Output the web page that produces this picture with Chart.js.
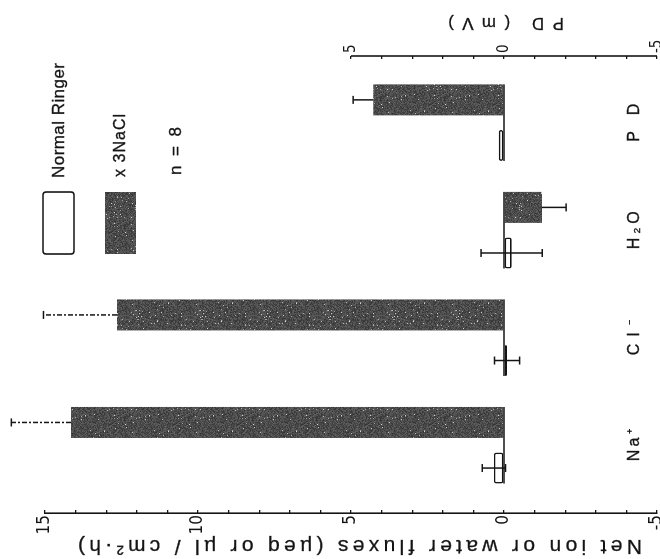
<!DOCTYPE html>
<html>
<head>
<meta charset="utf-8">
<script src="https://cdn.jsdelivr.net/npm/chart.js@4.4.1/dist/chart.umd.min.js"></script>
<style>
  html, body { margin: 0; padding: 0; background: #fff; overflow: hidden; }
  body { width: 660px; height: 559px; position: relative; }
  /* the figure is laid out upright and turned a quarter turn to the left */
  #wrap { position: absolute; left: 0; top: 559px; width: 559px; height: 660px;
          transform-origin: 0 0; transform: rotate(-90deg); }
</style>
</head>
<body>
<div id="wrap"><canvas id="fluxChart" width="559" height="660"></canvas></div>
<script>
const categories = ['Na⁺', 'Cl⁻', 'H₂O', 'PD'];
const seriesNames = ['Normal Ringer', 'x 3NaCl'];
const sampleNote = 'n = 8';
const fluxTitle = 'Net ion or water fluxes (µeq or µl / cm²·h)';
const pdTitle = 'PD (mV)';

// net fluxes in µeq or µl / cm²·h (Na⁺, Cl⁻, H₂O)
const ringerFlux    = [0.33, -0.1, -0.25, null];
const ringerFluxErr = [0.38, 0.41, 1.0, null];
const naclFlux      = [14.15, 12.65, -1.24, null];
const naclFluxErr   = [1.95, 2.4, 0.79, null];

// transepithelial PD in mV
const ringerPD    = [null, null, null, 0.17];
const ringerPDErr = [null, null, null, 0];
const naclPD      = [null, null, null, 4.27];
const naclPDErr   = [null, null, null, 0.66];

const fluxTicks = [-5, 0, 5, 10, 15];
const pdTicks = [-5, 0, 5];

const ink = '#141414';
const font = "'Liberation Sans', Arial, sans-serif";
const narrow = "'Liberation Sans Narrow', 'DejaVu Sans Condensed', 'Liberation Sans', sans-serif";
const labelWidths = [32, 35, 38, 38];
const dashedErr = [true, true, false, false];

// stippled fill for the hypertonic bars
function grainPattern(ctx) {
    const tile = document.createElement('canvas');
    tile.width = tile.height = 64;
    const t = tile.getContext('2d');
    const img = t.createImageData(64, 64);
    let seed = 20231;
    const next = () => (seed = (seed * 16807) % 2147483647) / 2147483647;
    for (let i = 0; i < 64 * 64; i++) {
        let g = 52 + next() * 46;
        if (next() < 0.025) g = 150 + next() * 70;
        img.data[i * 4] = img.data[i * 4 + 1] = img.data[i * 4 + 2] = g;
        img.data[i * 4 + 3] = 255;
    }
    t.putImageData(img, 0, 0);
    return ctx.createPattern(tile, 'repeat');
}

// letter-spaced text spread over a given width, lightly stroked for weight
function spacedText(ctx, str, x, y, width, align) {
    const chars = [...str];
    const widths = chars.map(c => ctx.measureText(c).width);
    const natural = widths.reduce((a, b) => a + b, 0);
    const gap = chars.length > 1 ? (width - natural) / (chars.length - 1) : 0;
    let cx = align === 'center' ? x - width / 2 : x;
    ctx.textAlign = 'left';
    ctx.lineWidth = 0.3;
    chars.forEach((c, k) => {
        ctx.fillText(c, cx, y);
        ctx.strokeText(c, cx, y);
        cx += widths[k] + gap;
    });
}

const ctx = document.getElementById('fluxChart').getContext('2d');
const grain = grainPattern(ctx);
const pts = arr => arr.map((v, i) => ({ x: i + 1, y: v }));

const ringerStyle = { backgroundColor: '#fff', borderColor: ink, borderWidth: 1.6, borderRadius: 2, borderSkipped: false };
const naclStyle = { backgroundColor: grain, borderWidth: 0 };

const decorations = {
    id: 'decorations',
    afterDatasetsDraw(chart) {
        const c = chart.ctx;
        const area = chart.chartArea;
        const { x: xs, y: ys, y2 } = chart.scales;
        c.save();
        c.strokeStyle = ink;
        c.fillStyle = ink;
        c.lineWidth = 1.6;

        // zero line joining the pair of bars in each group
        const y0 = ys.getPixelForValue(0);
        categories.forEach((cat, j) => {
            let lo = Infinity, hi = -Infinity;
            chart.data.datasets.forEach((ds, di) => {
                if (ds.data[j].y == null) return;
                const bar = chart.getDatasetMeta(di).data[j];
                lo = Math.min(lo, bar.x - bar.width / 2);
                hi = Math.max(hi, bar.x + bar.width / 2);
            });
            c.beginPath();
            c.moveTo(lo, y0);
            c.lineTo(hi, y0);
            c.stroke();
        });

        // error bars
        c.lineWidth = 1.5;
        chart.data.datasets.forEach((ds, di) => {
            const scale = chart.scales[ds.yAxisID];
            chart.getDatasetMeta(di).data.forEach((bar, j) => {
                const v = ds.data[j].y, e = ds.errs[j];
                if (v == null || !e) return;
                const dir = v >= 0 ? 1 : -1;
                const top = scale.getPixelForValue(v + dir * e);
                const bottom = scale.getPixelForValue(ds.twoSided ? v - dir * e : v);
                c.setLineDash(!ds.twoSided && dashedErr[j] ? [5, 2, 2, 2] : []);
                c.beginPath();
                c.moveTo(bar.x, bottom);
                c.lineTo(bar.x, top);
                c.stroke();
                c.setLineDash([]);
                const caps = ds.twoSided ? [top, bottom] : [top];
                caps.forEach(py => {
                    c.beginPath();
                    c.moveTo(bar.x - 4, py);
                    c.lineTo(bar.x + 4, py);
                    c.stroke();
                });
            });
        });

        // PD axis line only over its own range
        c.lineWidth = 1.6;
        c.beginPath();
        c.moveTo(y2.left, y2.getPixelForValue(pdTicks[0]));
        c.lineTo(y2.left, y2.getPixelForValue(pdTicks[pdTicks.length - 1]));
        c.stroke();

        // category labels inside the plot
        c.textBaseline = 'middle';
        c.font = '16px ' + font;
        categories.forEach((cat, j) => {
            spacedText(c, cat, xs.getPixelForValue(j + 1), area.bottom - 22, labelWidths[j], 'center');
        });

        // axis titles, reading upwards
        c.save();
        c.translate(13, 360);
        c.rotate(-Math.PI / 2);
        c.font = '21px ' + font;
        spacedText(c, fluxTitle, 0, 0, 564, 'center');
        c.restore();

        c.save();
        c.translate(536, y2.getPixelForValue(0) + 2);
        c.rotate(-Math.PI / 2);
        c.font = '17px ' + font;
        spacedText(c, pdTitle, 0, 0, 116, 'center');
        c.restore();

        // legend
        const boxX = 305, boxW = 62, boxH = 31;
        c.lineWidth = 1.6;
        c.beginPath();
        c.roundRect(boxX, 43, boxW, boxH, 3);
        c.fillStyle = '#fff';
        c.fill();
        c.stroke();
        c.fillStyle = grain;
        c.fillRect(boxX, 105, boxW, boxH);

        c.fillStyle = ink;
        c.font = '17px ' + font;
        spacedText(c, seriesNames[0], 381, 59, 115, 'left');
        c.font = '16px ' + font;
        spacedText(c, seriesNames[1], 382, 121, 63, 'left');
        c.font = '17px ' + font;
        spacedText(c, sampleNote, 384, 176, 48, 'left');
        c.restore();
    }
};

new Chart(ctx, {
    type: 'bar',
    data: {
        datasets: [
            { label: seriesNames[0], data: pts(ringerFlux), errs: ringerFluxErr, twoSided: true, yAxisID: 'y', ...ringerStyle },
            { label: seriesNames[1], data: pts(naclFlux), errs: naclFluxErr, yAxisID: 'y', ...naclStyle },
            { label: seriesNames[0], data: pts(ringerPD), errs: ringerPDErr, twoSided: true, yAxisID: 'y2', ...ringerStyle },
            { label: seriesNames[1], data: pts(naclPD), errs: naclPDErr, yAxisID: 'y2', ...naclStyle }
        ]
    },
    options: {
        responsive: false,
        animation: false,
        devicePixelRatio: 1,
        events: [],
        layout: { padding: { top: 45, bottom: 3, left: 0, right: 0 } },
        plugins: { legend: { display: false }, tooltip: { enabled: false } },
        datasets: { bar: { categoryPercentage: 0.848, barPercentage: 0.68, skipNull: true } },
        scales: {
            x: {
                type: 'linear',
                display: false,
                offset: false,
                min: 0.37,
                max: 4.62,
                afterBuildTicks: s => { s.ticks = categories.map((c, i) => ({ value: i + 1 })); }
            },
            y: {
                position: 'left',
                min: -5,
                max: 15,
                ticks: {
                    stepSize: 1,
                    autoSkip: false,
                    padding: 5,
                    color: ink,
                    font: { family: narrow, size: 17 },
                    callback: v => fluxTicks.includes(v) ? String(v) : ''
                },
                grid: { drawOnChartArea: false, drawTicks: true, tickLength: -3, color: ink, lineWidth: 1.3 },
                border: { display: true, color: ink, width: 1.6 },
                afterFit: s => { s.width = 46; s.paddingTop = 0; s.paddingBottom = 0; }
            },
            y2: {
                position: 'right',
                min: -5,
                max: 15,
                ticks: {
                    stepSize: 1,
                    autoSkip: false,
                    padding: 6,
                    color: ink,
                    font: { family: narrow, size: 15 },
                    callback: v => pdTicks.includes(v) ? String(v) : ''
                },
                afterBuildTicks: s => { s.ticks = s.ticks.filter(t => t.value <= pdTicks[pdTicks.length - 1]); },
                grid: { drawOnChartArea: false, drawTicks: true, tickLength: -3, color: ink, lineWidth: 1.3 },
                border: { display: false },
                afterFit: s => { s.width = 56; s.paddingTop = 0; s.paddingBottom = 0; }
            }
        }
    },
    plugins: [decorations]
});
</script>
</body>
</html>
